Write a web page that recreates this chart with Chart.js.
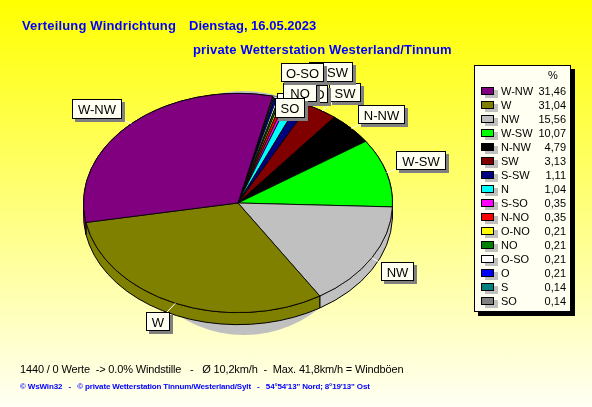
<!DOCTYPE html>
<html>
<head>
<meta charset="utf-8">
<style>
html, body { margin: 0; padding: 0; }
body { width: 592px; height: 407px; overflow: hidden; background: linear-gradient(#ffff00, #fffff4); }
canvas { display: block; }
</style>
<script src="https://cdn.jsdelivr.net/npm/chart.js@4/dist/chart.umd.js"></script>
</head>
<body>
<canvas id="myChart" width="592" height="407"></canvas>
<script>
var directions = ['W-NW', 'W', 'NW', 'W-SW', 'N-NW', 'SW', 'S-SW', 'N', 'S-SO', 'N-NO', 'O-NO', 'NO', 'O-SO', 'O', 'S', 'SO'];
var shares = [31.46, 31.04, 15.56, 10.07, 4.79, 3.13, 1.11, 1.04, 0.35, 0.35, 0.21, 0.21, 0.21, 0.21, 0.14, 0.14];
var shareLabels = ['31,46', '31,04', '15,56', '10,07', '4,79', '3,13', '1,11', '1,04', '0,35', '0,35', '0,21', '0,21', '0,21', '0,21', '0,14', '0,14'];
var colors = ['#800080', '#808000', '#c0c0c0', '#00ff00', '#000000', '#800000', '#000080', '#00ffff', '#ff00ff', '#ff0000', '#ffff00', '#008000', '#ffffff', '#0000ff', '#008080', '#808080'];

var title1 = 'Verteilung Windrichtung';
var titleDate = 'Dienstag, 16.05.2023';
var title2 = 'private Wetterstation Westerland/Tinnum';
var footer1 = '1440 / 0 Werte  -> 0.0% Windstille   -   \u00d8 10,2km/h  -  Max. 41,8km/h = Windb\u00f6en';
var footer2 = '\u00a9 WsWin32   -   \u00a9 private Wetterstation Tinnum/Westerland/Sylt   -   54\u00b054\'13" Nord; 8\u00b019\'13" Ost';

// callout boxes: left, top, width, height
var boxes = {
    'W-NW': [72, 99, 50, 20], 'W': [146, 312, 24, 19], 'NW': [381, 262, 33, 19], 'W-SW': [396, 151, 50, 19],
    'N-NW': [358, 105, 47, 19], 'SW': [329, 83, 32, 19], 'S-SW': [309, 62, 44, 20], 'N': [277, 93, 20, 19],
    'S-SO': [288, 85, 40, 18], 'N-NO': [288, 85, 40, 18], 'O-NO': [285, 84, 32, 18], 'NO': [283, 83, 34, 19],
    'O-SO': [281, 63, 43, 19], 'O': [279, 99, 20, 18], 'S': [279, 99, 20, 18], 'SO': [275, 98, 30, 20]
};

var flatten = 110 / 155;
var depth = 12;

function text(ctx, str, x, y, font, color, align, spacing) {
    ctx.font = font;
    ctx.fillStyle = color;
    ctx.textAlign = align || 'left';
    ctx.textBaseline = 'alphabetic';
    ctx.letterSpacing = spacing || '0px';
    ctx.fillText(str, x, y);
    ctx.letterSpacing = '0px';
}

function drawLegend(ctx) {
    ctx.fillStyle = '#000000';
    ctx.fillRect(478, 69, 97, 247);
    ctx.fillStyle = '#fffff2';
    ctx.fillRect(474, 65, 97, 247);
    ctx.strokeStyle = '#000000';
    ctx.lineWidth = 1;
    ctx.strokeRect(474.5, 65.5, 96, 246);
    text(ctx, '%', 553, 79, '11px "Liberation Sans"', '#000000', 'center');
    for (var i = 0; i < directions.length; i++) {
        var y = 91 + i * 14;
        ctx.fillStyle = '#c0c0c0';
        ctx.fillRect(485, y - 1, 13, 8);
        ctx.fillStyle = colors[i];
        ctx.fillRect(481, y - 4, 13, 8);
        ctx.strokeRect(481.5, y - 3.5, 12, 7);
        text(ctx, directions[i], 501, y + 4, '11px "Liberation Sans"', '#000000');
        text(ctx, shareLabels[i], 566, y + 4, '11px "Liberation Sans"', '#000000', 'right');
    }
}

var piePlugin = {
    id: 'flatPie',
    beforeDraw: function (chart) {
        var ctx = chart.ctx;
        text(ctx, title1, 22, 30, 'bold 13px "Liberation Sans"', '#0000ff', 'left', '0.17px');
        text(ctx, titleDate, 189, 30, 'bold 13px "Liberation Sans"', '#0000ff');
        text(ctx, title2, 193, 54, 'bold 13px "Liberation Sans"', '#0000ff', 'left', '0.15px');
        text(ctx, footer1, 20, 373, '11px "Liberation Sans"', '#000000', 'left', '-0.15px');
        text(ctx, footer2, 20, 389, 'bold 8px "Liberation Sans"', '#0000ff', 'left', '-0.15px');
        drawLegend(ctx);
    },
    beforeDatasetsDraw: function (chart) {
        var ctx = chart.ctx;
        var arcs = chart.getDatasetMeta(0).data;
        var cx = arcs[0].x, cy = arcs[0].y, r = arcs[0].outerRadius;
        // shadow behind the pie, shows at the top rim and under the bottom
        ctx.fillStyle = '#c0c0c0';
        ctx.beginPath();
        ctx.ellipse(cx + 6, cy + 10, r * 0.78, r * 0.79, 0, 0, Math.PI * 2);
        ctx.fill();
        // side wall of every slice
        ctx.strokeStyle = '#000000';
        ctx.lineWidth = 1;
        arcs.forEach(function (arc, i) {
            ctx.fillStyle = arc.options.backgroundColor;
            ctx.beginPath();
            ctx.ellipse(cx, cy, r, r * flatten, 0, arc.startAngle, arc.endAngle);
            ctx.ellipse(cx, cy + depth, r, r * flatten, 0, arc.endAngle, arc.startAngle, true);
            ctx.closePath();
            ctx.fill();
            ctx.stroke();
        });
        ctx.save();
        ctx.translate(cx, cy);
        ctx.scale(1, flatten);
        ctx.translate(-cx, -cy);
    },
    afterDatasetsDraw: function (chart) {
        var ctx = chart.ctx;
        ctx.restore();
        var arcs = chart.getDatasetMeta(0).data;
        var names = chart.data.labels;
        var i, arc, mid, b, rimX, rimY;
        // leader lines from the rim
        ctx.strokeStyle = '#ffffff';
        ctx.lineWidth = 1;
        for (i = 0; i < arcs.length; i++) {
            arc = arcs[i];
            mid = (arc.startAngle + arc.endAngle) / 2;
            b = boxes[names[i]];
            rimX = arc.x + arc.outerRadius * Math.cos(mid);
            rimY = arc.y + arc.outerRadius * flatten * Math.sin(mid);
            ctx.beginPath();
            ctx.moveTo(rimX, rimY);
            ctx.lineTo(b[0] + b[2] / 2, b[1] + b[3] / 2);
            ctx.stroke();
        }
        // boxes, legend order so the last ones lie on top
        for (i = 0; i < directions.length; i++) {
            b = boxes[directions[i]];
            ctx.fillStyle = '#808080';
            ctx.fillRect(b[0] + 3, b[1] + 3, b[2], b[3]);
            ctx.fillStyle = '#fffff2';
            ctx.fillRect(b[0], b[1], b[2], b[3]);
            ctx.strokeStyle = '#000000';
            ctx.strokeRect(b[0] + 0.5, b[1] + 0.5, b[2] - 1, b[3] - 1);
            text(ctx, directions[i], b[0] + b[2] / 2, b[1] + b[3] / 2 + 5, '13px "Liberation Sans"', '#000000', 'center');
        }
    }
};

var ctx = document.getElementById('myChart').getContext('2d');
var chart = new Chart(ctx, {
    type: 'pie',
    data: {
        // the pie runs counter-clockwise in legend order
        labels: directions.slice().reverse(),
        datasets: [{
            data: shares.slice().reverse(),
            backgroundColor: colors.slice().reverse(),
            borderColor: '#000000',
            borderWidth: 1,
            clip: false
        }]
    },
    options: {
        responsive: false,
        animation: false,
        rotation: 13,
        layout: { padding: { left: 83, right: 199, top: 48, bottom: 49 } },
        plugins: { legend: { display: false }, tooltip: { enabled: false } }
    },
    plugins: [piePlugin]
});
</script>
</body>
</html>
